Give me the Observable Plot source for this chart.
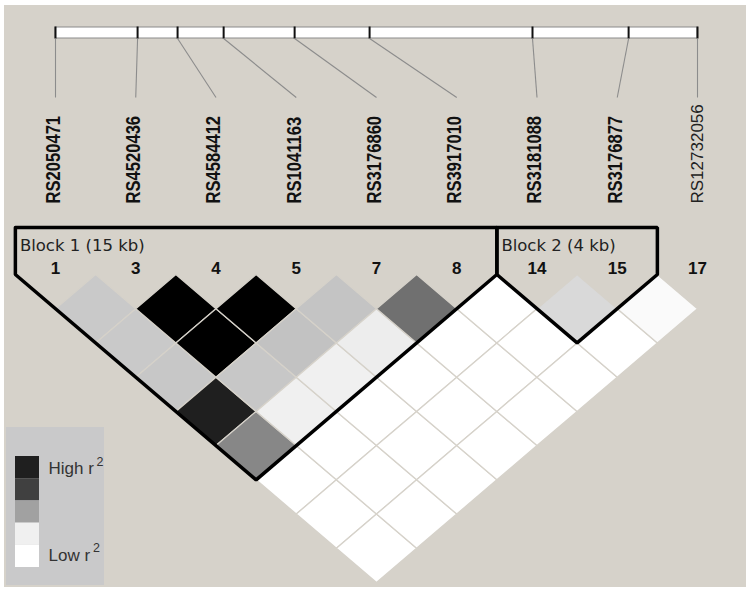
<!DOCTYPE html>
<html>
<head>
<meta charset="utf-8">
<script src="https://cdn.jsdelivr.net/npm/d3@7"></script>
<script src="https://cdn.jsdelivr.net/npm/@observablehq/plot@0.6"></script>
<style>
  html, body { margin: 0; padding: 0; background: #ffffff; }
  #chart svg { display: block; }
</style>
</head>
<body>
<div id="chart"></div>
<script>
// ---- Data ----
const markerNames = ["RS2050471","RS4520436","RS4584412","RS1041163","RS3176860","RS3917010","RS3181088","RS3176877","RS12732056"];
const markerNums = ["1","3","4","5","7","8","14","15","17"];
const markerKb = [0, 3.92, 5.83, 8.03, 11.42, 15.0, 22.78, 27.37, 30.66];
const markerBold = [true, true, true, true, true, true, true, true, false];
// pairwise r^2, row i lists pairs (i, j) for j = i+1 .. 8
const r2Rows = [
  [0.21, 0.21, 0.22, 0.88, 0.47, 0, 0, 0],
  [1.0, 1.0, 0.22, 0.06, 0, 0, 0],
  [1.0, 0.24, 0.06, 0, 0, 0],
  [0.23, 0.07, 0, 0, 0],
  [0.56, 0, 0, 0],
  [0, 0, 0],
  [0.15, 0],
  [0.02]
];
const blockNames = ["Block 1 (15 kb)", "Block 2 (4 kb)"];
const blockStart = [0, 6];
const blockEnd = [5, 7];
const legendLevels = [0.88, 0.75, 0.37, 0.06, 0];
const legendLabels = ["High r", "", "", "", "Low r"];

// ---- Layout helpers (pixel layout -> scale units) ----
const X = d3.scaleLinear([0, 8], [55, 697]);
const Y = d3.scaleLinear([0, 9], [274, 582]);
const ix = p => X.invert(p);
const iy = p => Y.invert(p);
const kbToX = d3.scaleLinear([markerKb[0], markerKb[markerKb.length - 1]], [0, 8]);
const BG = "#d6d2ca";

// ---- Build tables ----
const markers = markerNames.map((name, i) => ({i, name, num: markerNums[i], kb: markerKb[i], bold: markerBold[i]}));
const cells = [];
r2Rows.forEach((row, i) => row.forEach((r2, k) => {
  const j = i + 1 + k, cx = (i + j) / 2, d = j - i, id = i + "-" + j;
  [[cx, d - 1], [cx + 0.5, d], [cx, d + 1], [cx - 0.5, d], [cx, d - 1]]
    .forEach(([x, y]) => cells.push({id, x, y, r2}));
}));
const blockTop = iy(227);
const blockPts = [];
blockNames.forEach((name, b) => {
  const s = blockStart[b], e = blockEnd[b];
  [[s - 0.5, blockTop], [e + 0.5, blockTop], [e + 0.5, 0], [(s + e) / 2, e - s + 1], [s - 0.5, 0], [s - 0.5, blockTop]]
    .forEach(([x, y]) => blockPts.push({b, x, y}));
});
const blocks = blockNames.map((name, b) => ({name, s: blockStart[b]}));
const legend = legendLevels.map((v, k) => ({v, k, label: legendLabels[k]}));
const swH = (567 - 456) / legendLevels.length;
const legendText = legend.filter(d => d.label);

const chart = Plot.plot({
  width: 750,
  height: 593,
  margin: 0,
  style: {background: "#ffffff", fontFamily: "Liberation Sans, Arial, sans-serif"},
  x: {domain: X.domain(), range: X.range(), axis: null},
  y: {domain: Y.domain(), range: Y.range(), axis: null},
  color: {type: "linear", domain: [0, 1], range: ["#ffffff", "#000000"], interpolate: "rgb"},
  marks: [
    // panel background
    Plot.rect([0], {x1: ix(4), x2: ix(746), y1: iy(5), y2: iy(587), fill: BG}),
    // gene map bar
    Plot.rect([0], {x1: kbToX(markerKb[0]), x2: kbToX(markerKb[8]), y1: iy(27), y2: iy(38), fill: "#ffffff", stroke: "#8a8a8a", strokeWidth: 1}),
    Plot.ruleX(markers, {x: d => kbToX(d.kb), y1: iy(26.5), y2: iy(38.5), stroke: "#111", strokeWidth: 2}),
    Plot.link(markers, {x1: d => kbToX(d.kb), y1: iy(38), x2: d => d.i, y2: iy(97), stroke: "#8c8c8c", strokeWidth: 1.1}),
    // marker labels
    Plot.text(markers.filter(d => d.bold), {x: d => d.i - 0.025, y: iy(203), text: "name", rotate: -90, textAnchor: "start", fontSize: 20, fontWeight: "bold", fill: "#111", className: "mk-bold"}),
    Plot.text(markers.filter(d => !d.bold), {x: d => d.i, y: iy(203), text: "name", rotate: -90, textAnchor: "start", fontSize: 17, fontWeight: "normal", fill: "#222"}),
    // LD cells
    Plot.line(cells, {x: "x", y: "y", z: "id", fill: "r2", stroke: BG, strokeWidth: 1.3, strokeLinejoin: "miter"}),
    // block outlines
    Plot.line(blockPts, {x: "x", y: "y", z: "b", stroke: "#000", strokeWidth: 3.5, strokeLinejoin: "miter"}),
    Plot.text(blocks, {x: d => d.s - 0.5 + ix(59.5), y: iy(245), text: "name", textAnchor: "start", fontSize: 16.5, fontFamily: "DejaVu Sans, sans-serif", fill: "#222"}),
    // marker numbers
    Plot.text(markers, {x: "i", y: iy(268), text: "num", fontSize: 17, fontWeight: "bold", fill: "#111"}),
    // legend
    Plot.rect([0], {x1: ix(6), x2: ix(104), y1: iy(427), y2: iy(585), fill: "#c9c9ca"}),
    Plot.rect(legend, {x1: ix(15), x2: ix(39), y1: d => iy(456 + d.k * swH), y2: d => iy(456 + (d.k + 1) * swH), fill: "v"}),
    Plot.text(legendText, {x: ix(48), y: d => iy(456 + (d.k + 0.5) * swH + (d.k === 0 ? 1 : -1)), text: "label", textAnchor: "start", fontSize: 17, fill: "#333"}),
    Plot.text(legendText, {x: d => ix(d.k === 0 ? 96 : 92.5), y: d => iy(456 + (d.k + 0.5) * swH + (d.k === 0 ? 1 : -1) - 7), text: () => "2", textAnchor: "start", fontSize: 12.5, fill: "#333"})
  ]
});
// condense the bold marker names along their text direction
d3.select(chart).selectAll(".mk-bold text").attr("transform", function () {
  return this.getAttribute("transform") + " scale(0.83,1)";
});
document.getElementById("chart").appendChild(chart);
</script>
</body>
</html>
